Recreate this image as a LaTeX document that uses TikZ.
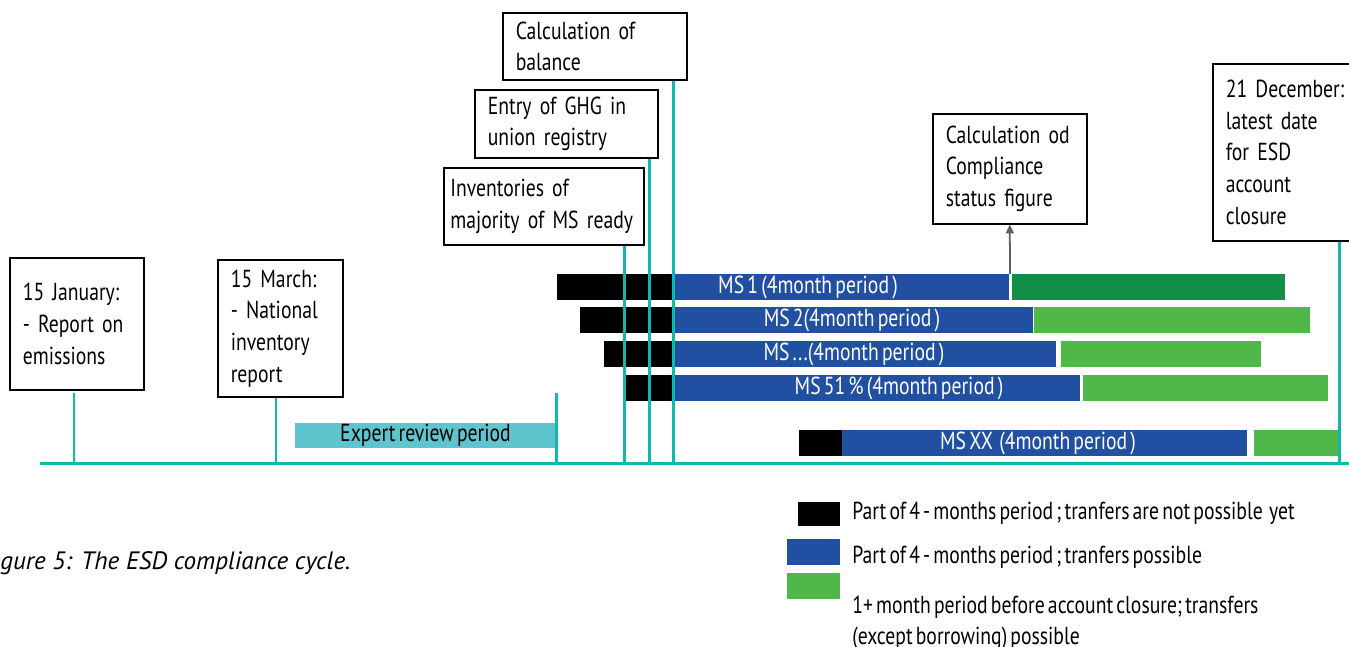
\documentclass[tikz,border=0pt]{standalone}
\usepackage{fontspec}
\setmainfont{PT Sans}[FakeStretch=0.8, WordSpace=0.6]
\newfontfamily\capfont{PT Sans}
\definecolor{esd_teal}{RGB}{20,183,170}
\definecolor{esd_review}{RGB}{94,197,206}
\definecolor{esd_blue}{RGB}{33,80,162}
\definecolor{esd_dkgreen}{RGB}{18,142,70}
\definecolor{esd_green}{RGB}{80,184,72}
\definecolor{esd_grey}{RGB}{95,95,95}
\usetikzlibrary{arrows.meta}

\begin{document}
\begin{tikzpicture}[x=0.02cm, y=-0.02cm, font=\fontsize{14}{18}\selectfont,
          evbox/.style={draw, line width=0.9pt, anchor=north west, align=left,
                        inner xsep=0.26cm, inner ysep=0pt},
          tick/.style={esd_teal, line width=1.7pt},
          blkbar/.style={fill=black},
          bluebar/.style={fill=esd_blue},
          grnbar/.style={fill=esd_green},
          mslabel/.style={text=white, inner sep=0pt},
          legtext/.style={anchor=west, align=left, inner sep=0pt},
          statarr/.style={-{Triangle[length=5pt, width=4.5pt]}, line width=1pt, esd_grey}]
  \clip (0,0) rectangle (1349,646);
  % event boxes
  \node[evbox, text width=2.16cm, minimum height=2.64cm] (jan) at (9,257)
    {15 January:\\- Report on\\emissions};
  \node[evbox, text width=1.98cm, minimum height=2.74cm] (mar) at (217,259)
    {15 March:\\- National\\inventory\\report};
  \node[evbox, inner xsep=0.13cm, text width=3.75cm, minimum height=1.54cm] (inv) at (443,167)
    {Inventories of\\majority of MS ready};
  \node[evbox, text width=3.14cm, minimum height=1.36cm] (entry) at (474,89)
    {Entry of GHG in\\union registry};
  \node[evbox, text width=3.16cm, minimum height=1.34cm] (bal) at (502,12)
    {Calculation of\\balance};
  \node[evbox, text width=2.56cm, minimum height=2.2cm] (compl) at (932,113)
    {Calculation od\\Compliance\\status figure};
  \node[evbox, text width=2.5cm, minimum height=3.54cm] (dec) at (1212,63)
    {21 December:\\latest date\\for ESD\\account\\closure};
  % expert review
  \node[fill=esd_review, minimum width=5.22cm, minimum height=0.5cm, inner sep=0pt]
    (review) at (425.5,435.5) {Expert review period};
  % member state bars
  \fill[blkbar] (557,274) rectangle (673,300);
  \fill[bluebar] (673,274) rectangle (1009,300);
  \fill[esd_dkgreen] (1012,274) rectangle (1285,300);
  \fill[blkbar] (580,307) rectangle (673,333);
  \fill[bluebar] (673,307) rectangle (1033,333);
  \fill[grnbar] (1034,307) rectangle (1310,333);
  \fill[blkbar] (604,341) rectangle (673,367);
  \fill[bluebar] (673,341) rectangle (1056,367);
  \fill[grnbar] (1061,341) rectangle (1261,367);
  \fill[blkbar] (626,375) rectangle (673,401);
  \fill[bluebar] (673,375) rectangle (1080,401);
  \fill[grnbar] (1083,375) rectangle (1328,401);
  \fill[blkbar] (799,430) rectangle (842,456);
  \fill[bluebar] (842,430) rectangle (1247,456);
  \fill[grnbar] (1254,430) rectangle (1338,456);
  \node[mslabel] (ms1) at (808,287) {MS 1 (4month period )};
  \node[mslabel] (ms2) at (852,320) {MS 2(4month period )};
  \node[mslabel] (ms3) at (854,354) {MS ...(4month period )};
  \node[mslabel] (ms51) at (899,388) {MS 51 \% (4month period )};
  \node[mslabel] (msxx) at (1038,443) {MS XX\ \ (4month period )};
  \coordinate (ms1split) at (1010,274);
  \draw[statarr] (ms1split) -- (compl.south);
  % timeline
  \coordinate (axl) at (40,463);
  \coordinate (axr) at (1352,463);
  \coordinate (t1) at (74,463);
  \coordinate (t2) at (276,463);
  \coordinate (t3) at (556,463);
  \coordinate (t4) at (624,463);
  \coordinate (t5) at (649,463);
  \coordinate (t6) at (673.5,463);
  \coordinate (t7) at (1339,463);
  \draw[tick] (axl) -- (axr);
  \draw[tick] (t1) -- ++(0,-70);
  \draw[tick] (t2) -- (t2 |- mar.south);
  \draw[tick] (t3) -- ++(0,-70);
  \draw[tick] (t4) -- (t4 |- inv.south);
  \draw[tick] (t5) -- (t5 |- entry.south);
  \draw[tick] (t6) -- (t6 |- bal.south);
  \draw[tick] (t7) -- (t7 |- dec.south);
  % legend
  \fill[blkbar] (798,502) rectangle (840,526);
  \fill[bluebar] (787,539) rectangle (840,565);
  \fill[grnbar] (787,573) rectangle (840,599);
  \node[legtext] (leg1) at (852,513)
    {Part of 4 - months period ; tranfers are not possible\ \ yet};
  \node[legtext] (leg2) at (852,557) {Part of 4 - months period ; tranfers possible};
  \node[legtext] (leg3) at (852,623)
    {1+ month period before account closure; transfers\\(except borrowing) possible};
  % caption
  \node[anchor=west, inner sep=0pt, font=\capfont\itshape\fontsize{14.3}{17}\selectfont]
    (cap) at (0,563) {gure 5: The ESD compliance cycle.};
\end{tikzpicture}
\end{document}
